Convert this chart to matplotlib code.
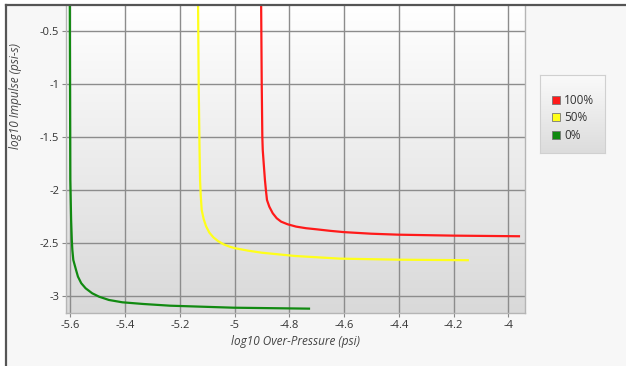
import numpy as np
import matplotlib
matplotlib.use("Agg")
import matplotlib.pyplot as plt
from matplotlib.lines import Line2D
from matplotlib.patches import Rectangle

plt.rcParams["font.family"] = ["Open Sans", "DejaVu Sans"]
plt.rcParams["axes.unicode_minus"] = False

# values (log10 pressure, log10 impulse)
red_x = [-4.903, -4.9007, -4.8985, -4.897, -4.8934, -4.889, -4.885, -4.8815,
         -4.873, -4.8605, -4.846, -4.830, -4.806, -4.775, -4.739, -4.702,
         -4.650, -4.600, -4.500, -4.402, -4.201, -3.957]
red_y = [-0.20, -1.00, -1.50, -1.620, -1.75, -1.903, -2.010, -2.092,
         -2.155, -2.217, -2.264, -2.296, -2.321, -2.343, -2.358, -2.368,
         -2.383, -2.395, -2.410, -2.419, -2.428, -2.434]

yellow_x = [-5.1334, -5.131, -5.128, -5.126, -5.1235, -5.120, -5.113, -5.104,
            -5.092, -5.077, -5.060, -5.040, -5.017, -4.998, -4.950, -4.901,
            -4.779, -4.615, -4.400, -4.144]
yellow_y = [-0.20, -1.00, -1.60, -1.903, -2.05, -2.186, -2.270, -2.340,
            -2.400, -2.445, -2.480, -2.510, -2.533, -2.547, -2.570, -2.589,
            -2.620, -2.645, -2.655, -2.660]

green_x = [-5.602, -5.600, -5.597, -5.5945, -5.5925, -5.589, -5.579, -5.572,
           -5.560, -5.544, -5.520, -5.495, -5.459, -5.410, -5.333, -5.236,
           -5.004, -4.724]
green_y = [-0.20, -1.90, -2.280, -2.469, -2.563, -2.658, -2.752, -2.815,
           -2.877, -2.925, -2.972, -3.004, -3.035, -3.057, -3.073, -3.089,
           -3.108, -3.117]

series_labels = ["100%", "50%", "0%"]
series_colors = ["#ff1a1a", "#ffff1a", "#118a11"]

x_ticks = [-5.6, -5.4, -5.2, -5.0, -4.8, -4.6, -4.4, -4.2, -4.0]
y_ticks = [-3.0, -2.5, -2.0, -1.5, -1.0, -0.5]

W, H = 626, 366
fig = plt.figure(figsize=(W / 100, H / 100), dpi=100)
fig.patch.set_facecolor("white")

# outer panel with dark top/left border
fig.patches.append(Rectangle((6 / W, 0), 1, 1 - 5 / H, transform=fig.transFigure,
                             facecolor="#f7f7f7", edgecolor="none", zorder=-2))
fig.add_artist(Line2D([6 / W, 6 / W], [0, 1 - 5 / H], transform=fig.transFigure,
                      color="#555555", lw=1.6))
fig.add_artist(Line2D([6 / W, 1], [1 - 5 / H, 1 - 5 / H], transform=fig.transFigure,
                      color="#555555", lw=1.6))

ax = fig.add_axes([66 / W, 53 / H, 459 / W, 308 / H])
ax.set_facecolor("none")
grad = np.linspace(0, 1, 256).reshape(-1, 1)
ax.imshow(grad, extent=[0, 1, 0, 1], transform=ax.transAxes, aspect="auto",
          cmap=matplotlib.colors.LinearSegmentedColormap.from_list("g", ["#ffffff", "#d9d9d9"]),
          zorder=0)

for xs, ys, c, lab in zip([red_x, yellow_x, green_x], [red_y, yellow_y, green_y],
                          series_colors, series_labels):
    ax.plot(xs, ys, color=c, lw=1.6, label=lab, zorder=3, solid_capstyle="butt",
            solid_joinstyle="round")

ax.set_xlim(-5.6157, -3.939)
ax.set_ylim(-3.158, -0.252)
ax.set_xticks(x_ticks)
ax.set_yticks(y_ticks)
ax.set_xticklabels(["%g" % t for t in x_ticks])
ax.set_yticklabels(["%g" % t for t in y_ticks])
ax.grid(True, color="#8c8c8c", lw=1.0, zorder=1)
ax.set_axisbelow(True)
ax.tick_params(length=3, width=0.8, color="#888888", labelsize=8, labelcolor="#333333", pad=2)
for s in ax.spines.values():
    s.set_color("#b5b5b5")
    s.set_linewidth(1.0)
ax.spines["top"].set_visible(False)

ax.set_xlabel("log10 Over-Pressure (psi)", fontsize=8.5, style="italic", color="#444444", labelpad=3)
ax.set_ylabel("log10 Impulse (psi-s)", fontsize=8.5, style="italic", color="#444444", labelpad=6)
ax.yaxis.set_label_coords(-0.095, 0.705)

# legend box with gradient
lax = fig.add_axes([540 / W, (H - 153) / H, 65 / W, 78 / H])
lax.imshow(grad, extent=[0, 1, 0, 1], aspect="auto",
           cmap=matplotlib.colors.LinearSegmentedColormap.from_list("l", ["#fafafa", "#dcdcdc"]))
lax.set_xlim(0, 1)
lax.set_ylim(0, 1)
lax.set_xticks([])
lax.set_yticks([])
for s in lax.spines.values():
    s.set_color("#d0d0d0")
handles = [Line2D([], [], ls="none", marker="s", markersize=6, markerfacecolor=c,
                  markeredgecolor="#777777", markeredgewidth=0.6) for c in series_colors]
lax.legend(handles, series_labels, loc="center", bbox_to_anchor=(0.5, 0.45),
           frameon=False, fontsize=8.5, handlelength=0.8, handletextpad=0.3,
           labelspacing=0.4, borderpad=0, labelcolor="#333333")

fig.savefig("out.png", dpi=100)
